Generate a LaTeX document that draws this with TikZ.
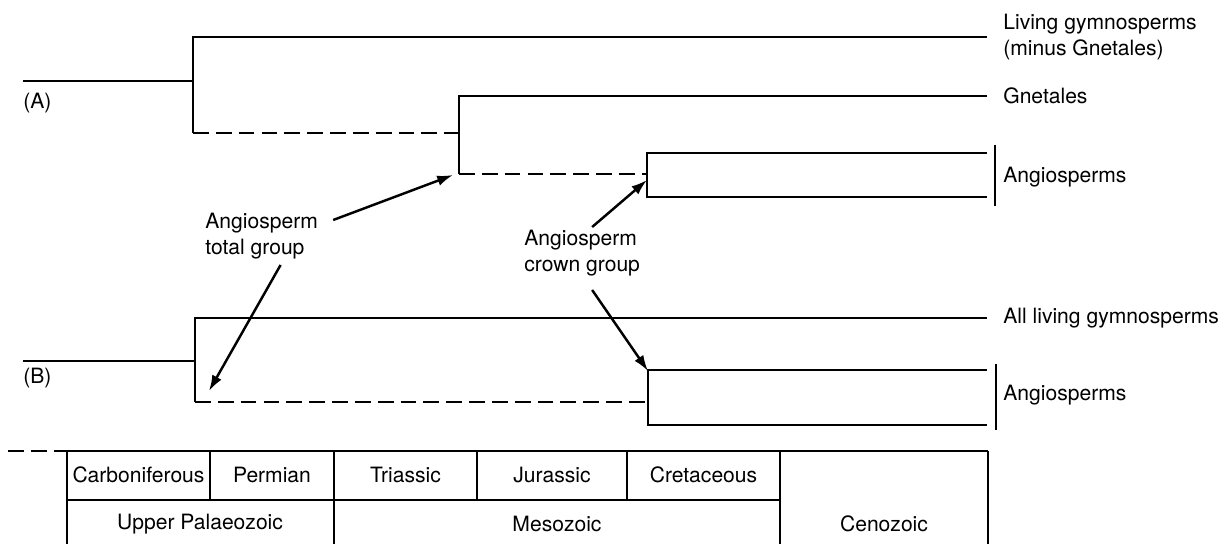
\documentclass[tikz,border=0pt]{standalone}
\usepackage{fontspec}
\setmainfont{TeX Gyre Heros}
\usetikzlibrary{arrows.meta,calc}
\begin{document}
\begin{tikzpicture}[>={Latex[length=9pt,width=6pt]},x=0.02cm,y=-0.02cm,
                    font=\fontsize{12}{14.4}\selectfont,
                    br/.style={line width=.8pt},
                    ghost/.style={br,dash pattern=on 9pt off 4pt},
                    pt/.style={->,line width=1.4pt},
                    lab/.style={anchor=west,inner sep=0pt,align=left}]
                          \useasboundingbox (0,0) rectangle (1224,544);
                          \draw[br] (23,81)--(193,81);
                          \draw[br] (987,37)--(193,37)--(193,133);
                          \draw[ghost] (193,133)--(459,133);
                          \draw[br] (987,96)--(459,96)--(459,174);
                          \draw[ghost] (459,174)--(647,174);
                          \draw[br] (987,153)--(647,153)--(647,197)--(987,197);
                          \draw[br] (995,145)--(995,206);
                          \draw[br] (23,361)--(195,361);
                          \draw[br] (987,318)--(195,318)--(195,402);
                          \draw[ghost] (195,402)--(648,402);
                          \draw[br] (987,370)--(648,370)--(648,425)--(987,425);
                          \draw[br] (996,364)--(996,430);
                          \node[lab] (livgym) at (1003,37) {Living gymnosperms\\(minus Gnetales)};
                          \node[lab] (gnet) at (1003,96) {Gnetales};
                          \node[lab] (angA) at (1003,177) {Angiosperms};
                          \node[lab] (allgym) at (1003,318) {All living gymnosperms};
                          \node[lab] (angB) at (1003,395) {Angiosperms};
                          \node[lab] (panA) at (23,103) {(A)};
                          \node[lab] (panB) at (23,378) {(B)};
                          \node[lab] (totgrp) at (205,236) {Angiosperm\\total group};
                          \node[lab] (crngrp) at (524,253) {Angiosperm\\crown group};
                          \coordinate (tipA) at (453,175);
                          \coordinate (tipB) at (209,391);
                          \coordinate (tipC) at (647,180);
                          \coordinate (tipD) at (648,371);
                          \draw[pt] ($(totgrp.north east)+(15,7)$)--(tipA);
                          \draw[pt] ($(totgrp.south)+(19,6)$)--(tipB);
                          \draw[pt] ($(crngrp.north)+(10,-3)$)--(tipC);
                          \draw[pt] ($(crngrp.south)+(10,14)$)--(tipD);
                          \draw[ghost] (8,451)--(55,451);
                          \draw[br] (55,451)--(988,451);
                          \draw[br] (67,500)--(780,500);
                          \foreach \x in {67,334,780,988}
                              \draw[br] (\x,451)--(\x,544);
                          \foreach \x in {210,477,627}
                              \draw[br] (\x,451)--(\x,500);
                          \foreach \a/\b/\t [count=\i] in {67/210/Carboniferous,210/334/Permian,334/477/Triassic,477/627/Jurassic,627/780/Cretaceous}
                              \node (per\i) at ({(\a+\b)/2},475) {\t};
                          \node (era1) at (200,524) {Upper Palaeozoic};
                          \node (era2) at (557,524) {Mesozoic};
                          \node (era3) at (884,524) {Cenozoic};
                      \end{tikzpicture}
\end{document}
